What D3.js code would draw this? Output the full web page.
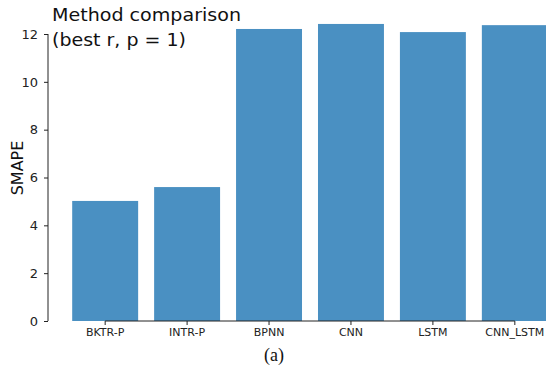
<!DOCTYPE html>
<html><head><meta charset="utf-8">
<script src="https://cdn.jsdelivr.net/npm/d3@7"></script>
<style>body{margin:0;background:#fff}svg{display:block}</style>
</head><body>
<svg id="c" width="546" height="373"></svg>
<script>
const categories = ["BKTR-P","INTR-P","BPNN","CNN","LSTM","CNN_LSTM"];
const values = [5.02, 5.60, 12.21, 12.42, 12.08, 12.37];
const yTicks = [0,2,4,6,8,10,12];

const svg = d3.select("#c");
const m = {left:48, top:34, bottom:321, right:546};
const x = d3.scaleBand().domain(categories).range([64, 556]).paddingInner(0.195).paddingOuter(0.1);
const y = d3.scaleLinear().domain([0,12]).range([m.bottom, m.top]);

const color = "#4a90c2";
svg.selectAll("rect.bar").data(values).enter().append("rect")
  .attr("x",(d,i)=>x(categories[i]))
  .attr("width",x.bandwidth())
  .attr("y",d=>y(d))
  .attr("height",d=>y(0)-y(d))
  .attr("fill",color);

// y axis
const ya = svg.append("g").attr("transform",`translate(${m.left},0)`)
  .call(d3.axisLeft(y).tickValues(yTicks).tickSize(4).tickPadding(6));
ya.select(".domain").attr("d",`M0,${y(0)}V${y(12)}`).attr("stroke","#222");
ya.selectAll(".tick line").attr("stroke","#222");
ya.selectAll("text").attr("font-family","DejaVu Sans").attr("font-size","13px").attr("fill","#222");

// x axis
const xa = svg.append("g").attr("transform",`translate(0,${m.bottom})`)
  .call(d3.axisBottom(x).tickSize(4).tickPadding(3));
const c0 = x(categories[0])+x.bandwidth()/2, c1 = x(categories[5])+x.bandwidth()/2;
xa.select(".domain").attr("d",`M${c0},0H${c1}`).attr("stroke","#222");
xa.selectAll(".tick line").attr("stroke","#222");
xa.selectAll("text").attr("font-family","DejaVu Sans").attr("font-size","11px").attr("fill","#222");

// title
svg.append("text").attr("x",52).attr("y",21).attr("font-family","DejaVu Sans").attr("font-size","18.5px").attr("fill","#111")
  .attr("textLength",189).attr("lengthAdjust","spacingAndGlyphs").text("Method comparison");
svg.append("text").attr("x",52).attr("y",46).attr("font-family","DejaVu Sans").attr("font-size","18.5px").attr("fill","#111")
  .attr("textLength",134).attr("lengthAdjust","spacingAndGlyphs").text("(best r, p = 1)");

// y label
svg.append("text").attr("transform","translate(23,168) rotate(-90)")
  .attr("text-anchor","middle").attr("font-family","DejaVu Sans").attr("font-size","16px").attr("fill","#111")
  .text("SMAPE");

// caption
svg.append("text").attr("x",274).attr("y",361).attr("text-anchor","middle")
  .attr("font-family","Liberation Serif").attr("font-size","18px").attr("fill","#111").text("(a)");
</script>
</body></html>
